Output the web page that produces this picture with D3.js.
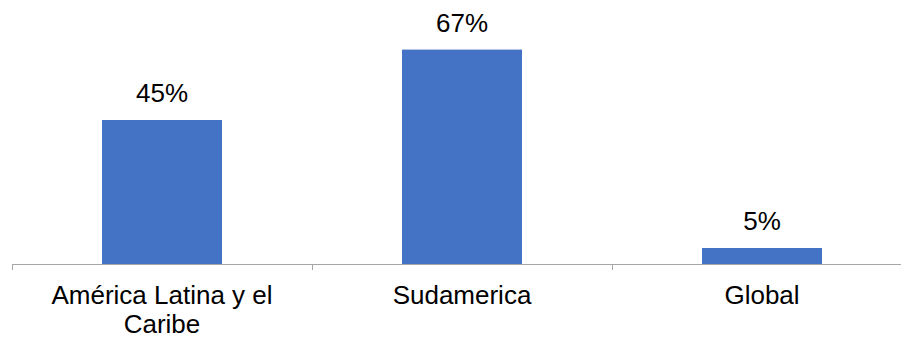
<!DOCTYPE html>
<html>
<head>
<meta charset="utf-8">
<script src="https://cdn.jsdelivr.net/npm/d3@7"></script>
<style>
  html, body { margin: 0; padding: 0; background: #fff; }
  svg { display: block; }
  text { font-family: "Liberation Sans", Arial, sans-serif; fill: #000; }
</style>
</head>
<body>
<svg id="chart" width="901" height="338"></svg>
<script>
// Share of each region (percent)
const categories = ["América Latina y el Caribe", "Sudamerica", "Global"];
const categoryLines = [["América Latina y el", "Caribe"], ["Sudamerica"], ["Global"]];
const values = [45, 67, 5];

const svg = d3.select("#chart");
const fontSize = 26;

const x = d3.scaleBand()
  .domain(categories)
  .range([12, 912])
  .paddingInner(0.6)
  .paddingOuter(0.3);

const y = d3.scaleLinear()
  .domain([0, 80])
  .range([264, 8]);

// Bars
svg.append("g")
  .selectAll("rect")
  .data(values)
  .join("rect")
  .attr("x", (d, i) => x(categories[i]))
  .attr("y", d => y(d))
  .attr("width", x.bandwidth())
  .attr("height", d => y(0) - y(d))
  .attr("fill", "#4472C4");

// Category axis: baseline with tick marks at band boundaries
const axisColor = "#A6A6A6";
const step = x.step();
const axisG = svg.append("g");
axisG.append("line")
  .attr("x1", 12).attr("x2", 901)
  .attr("y1", y(0) + 0.5).attr("y2", y(0) + 0.5)
  .attr("stroke", axisColor).attr("stroke-width", 1);
const boundaries = d3.range(categories.length + 1).map(i => 12 + i * step);
axisG.selectAll("line.tick")
  .data(boundaries)
  .join("line")
  .attr("class", "tick")
  .attr("x1", d => d + 0.5).attr("x2", d => d + 0.5)
  .attr("y1", y(0)).attr("y2", y(0) + 6)
  .attr("stroke", axisColor).attr("stroke-width", 1);

// Category labels (wrapped)
const labels = svg.append("g")
  .selectAll("text")
  .data(categories)
  .join("text")
  .attr("text-anchor", "middle")
  .attr("font-size", fontSize)
  .attr("x", d => x(d) + x.bandwidth() / 2)
  .attr("y", 304);
labels.each(function(d, i) {
  const t = d3.select(this);
  categoryLines[i].forEach((line, j) => {
    t.append("tspan")
      .attr("x", x(d) + x.bandwidth() / 2)
      .attr("dy", j === 0 ? 0 : 29)
      .text(line);
  });
});

// Value labels
svg.append("g")
  .selectAll("text")
  .data(values)
  .join("text")
  .attr("text-anchor", "middle")
  .attr("font-size", fontSize)
  .attr("x", (d, i) => x(categories[i]) + x.bandwidth() / 2)
  .attr("y", d => y(d) - 18)
  .text(d => d + "%");
</script>
</body>
</html>
